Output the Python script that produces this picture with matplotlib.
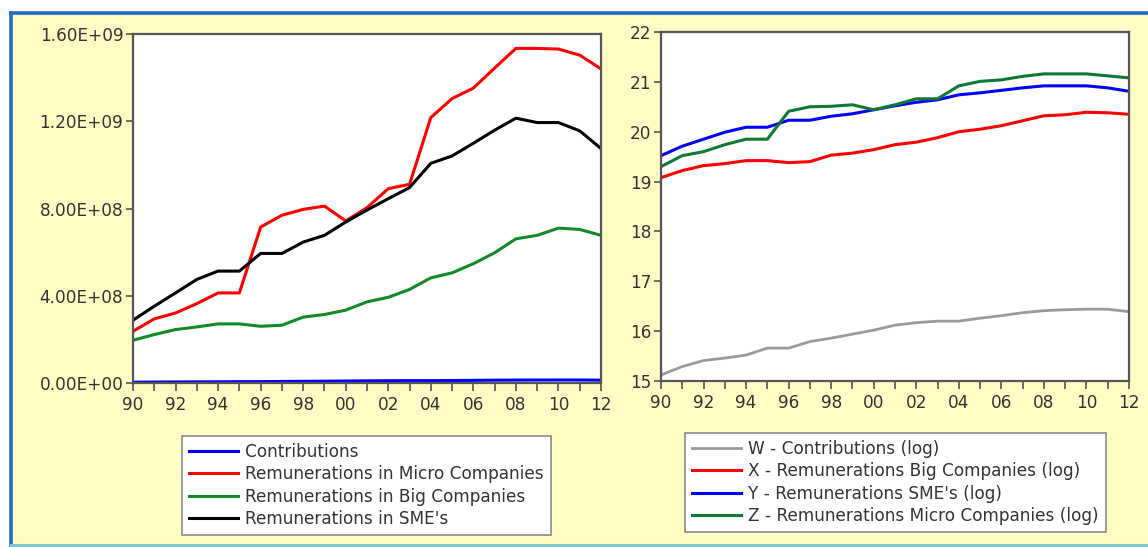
import matplotlib
matplotlib.use("Agg")
import matplotlib.pyplot as plt
from matplotlib.ticker import FuncFormatter, MultipleLocator
from matplotlib.patches import Rectangle
from matplotlib.lines import Line2D

years = list(range(1990, 2013))

# Levels (left panel)
contributions = [3.7e6, 4.4e6, 4.9e6, 5.2e6, 5.5e6, 6.3e6, 6.3e6, 7.2e6, 7.7e6,
                 8.4e6, 9.1e6, 1.00e7, 1.06e7, 1.09e7, 1.09e7, 1.15e7, 1.21e7,
                 1.29e7, 1.34e7, 1.37e7, 1.38e7, 1.38e7, 1.31e7]
rem_micro = [2.37e8, 2.94e8, 3.21e8, 3.64e8, 4.13e8, 4.13e8, 7.15e8, 7.69e8,
             7.96e8, 8.11e8, 7.43e8, 8.04e8, 8.91e8, 9.11e8, 1.217e9, 1.304e9,
             1.352e9, 1.444e9, 1.534e9, 1.534e9, 1.531e9, 1.503e9, 1.440e9]
rem_big = [1.96e8, 2.22e8, 2.45e8, 2.57e8, 2.71e8, 2.71e8, 2.60e8, 2.65e8,
           3.02e8, 3.14e8, 3.34e8, 3.72e8, 3.93e8, 4.29e8, 4.82e8, 5.05e8,
           5.47e8, 5.97e8, 6.61e8, 6.77e8, 7.10e8, 7.04e8, 6.77e8]
rem_sme = [2.88e8, 3.52e8, 4.13e8, 4.75e8, 5.13e8, 5.13e8, 5.94e8, 5.94e8,
           6.46e8, 6.77e8, 7.38e8, 7.93e8, 8.45e8, 8.96e8, 1.007e9, 1.041e9,
           1.099e9, 1.159e9, 1.214e9, 1.194e9, 1.194e9, 1.156e9, 1.075e9]

# Logs (right panel)
w_contrib = [15.12, 15.29, 15.41, 15.46, 15.52, 15.66, 15.66, 15.79, 15.86,
             15.94, 16.02, 16.12, 16.17, 16.20, 16.20, 16.26, 16.31, 16.37,
             16.41, 16.43, 16.44, 16.44, 16.39]
x_big = [19.08, 19.22, 19.32, 19.36, 19.42, 19.42, 19.38, 19.40, 19.53, 19.57,
         19.64, 19.74, 19.79, 19.88, 20.00, 20.05, 20.12, 20.22, 20.32, 20.34,
         20.39, 20.38, 20.35]
y_sme = [19.52, 19.71, 19.85, 19.99, 20.09, 20.09, 20.23, 20.23, 20.31, 20.36,
         20.44, 20.52, 20.59, 20.64, 20.74, 20.78, 20.83, 20.88, 20.92, 20.92,
         20.92, 20.88, 20.81]
z_micro = [19.30, 19.52, 19.60, 19.74, 19.85, 19.85, 20.41, 20.50, 20.51,
           20.54, 20.44, 20.54, 20.66, 20.66, 20.92, 21.01, 21.04, 21.11,
           21.16, 21.16, 21.16, 21.12, 21.08]

left_labels = ["Contributions", "Remunerations in Micro Companies",
               "Remunerations in Big Companies", "Remunerations in SME's"]
right_labels = ["W - Contributions (log)", "X - Remunerations Big Companies (log)",
                "Y - Remunerations SME's (log)", "Z - Remunerations Micro Companies (log)"]

BG = "#fffcc4"
FRAME = "#555555"
TXT = "#333333"
FS = 12.2
LW = 2.2

plt.rcParams["font.family"] = ["DejaVu Sans"]

fig = plt.figure(figsize=(11.48, 5.47), dpi=100)
fig.patch.set_facecolor("white")

W, H = 1148, 547
# yellow panel with blue/teal border
fig.patches.append(Rectangle((10 / W, 0), 1, 1 - 12 / H, transform=fig.transFigure,
                             facecolor=BG, edgecolor="none", zorder=-2))
fig.lines.append(Line2D([10.5 / W, 1], [1 - 12.5 / H] * 2, transform=fig.transFigure,
                        color="#1a6fc4", lw=2.6))
fig.lines.append(Line2D([10.5 / W] * 2, [2.5 / H, 1 - 12.5 / H], transform=fig.transFigure,
                        color="#1a6fc4", lw=2.6))
fig.lines.append(Line2D([10.5 / W, 1], [2.5 / H] * 2, transform=fig.transFigure,
                        color="#7cc7cf", lw=2.2))


def style_axes(ax):
    ax.set_facecolor("white")
    for s in ax.spines.values():
        s.set_color(FRAME)
        s.set_linewidth(1.6)
    ax.tick_params(axis="both", colors=FRAME, labelcolor=TXT, labelsize=FS,
                   direction="out", width=1.2)
    ax.tick_params(axis="y", length=5, pad=2)
    ax.tick_params(axis="x", which="both", length=6, pad=3)
    ax.set_xlim(1990, 2012)
    ax.xaxis.set_major_locator(MultipleLocator(2))
    ax.xaxis.set_minor_locator(MultipleLocator(1))
    ax.tick_params(axis="x", which="minor", labelbottom=False, length=6,
                   width=1.2, colors=FRAME)
    ax.xaxis.set_major_formatter(FuncFormatter(lambda v, p: f"{int(round(v)) % 100:02d}"))


ax1 = fig.add_axes([133 / W, 1 - 383 / H, 468 / W, 349 / H])
style_axes(ax1)
ax1.plot(years, contributions, color="#0000ff", lw=LW, label=left_labels[0])
ax1.plot(years, rem_micro, color="#ff0000", lw=LW, label=left_labels[1])
ax1.plot(years, rem_big, color="#128a26", lw=LW, label=left_labels[2])
ax1.plot(years, rem_sme, color="#000000", lw=LW, label=left_labels[3])
ax1.set_ylim(0, 1.6e9)
ax1.yaxis.set_major_locator(MultipleLocator(4e8))


def sci_fmt(v, p):
    if v == 0:
        return "0.00E+00"
    return f"{v:.2E}"


ax1.yaxis.set_major_formatter(FuncFormatter(sci_fmt))

ax2 = fig.add_axes([661 / W, 1 - 381 / H, 468 / W, 349 / H])
style_axes(ax2)
ax2.plot(years, w_contrib, color="#9a9a9a", lw=2.0, label=right_labels[0])
ax2.plot(years, x_big, color="#ff0000", lw=LW, label=right_labels[1])
ax2.plot(years, y_sme, color="#0000ff", lw=LW, label=right_labels[2])
ax2.plot(years, z_micro, color="#0c7a32", lw=LW, label=right_labels[3])
ax2.set_ylim(15, 22)
ax2.yaxis.set_major_locator(MultipleLocator(1))

leg_kw = dict(fontsize=FS, frameon=True, fancybox=False, handlelength=2.9,
              handletextpad=0.4, labelspacing=0.25, borderpad=0.45,
              borderaxespad=0, labelcolor=TXT)

l1 = fig.legend(*ax1.get_legend_handles_labels(), loc="center",
                bbox_to_anchor=(366.5 / W, 1 - 485.5 / H), **leg_kw)
l2 = fig.legend(*ax2.get_legend_handles_labels(), loc="center",
                bbox_to_anchor=(895.5 / W, 1 - 482.5 / H), **leg_kw)
for lg in (l1, l2):
    fr = lg.get_frame()
    fr.set_edgecolor("#8a8a8a")
    fr.set_linewidth(1.2)
    fr.set_facecolor("white")
    fr.set_alpha(1)

fig.savefig("out.png", dpi=100, facecolor=fig.get_facecolor())
